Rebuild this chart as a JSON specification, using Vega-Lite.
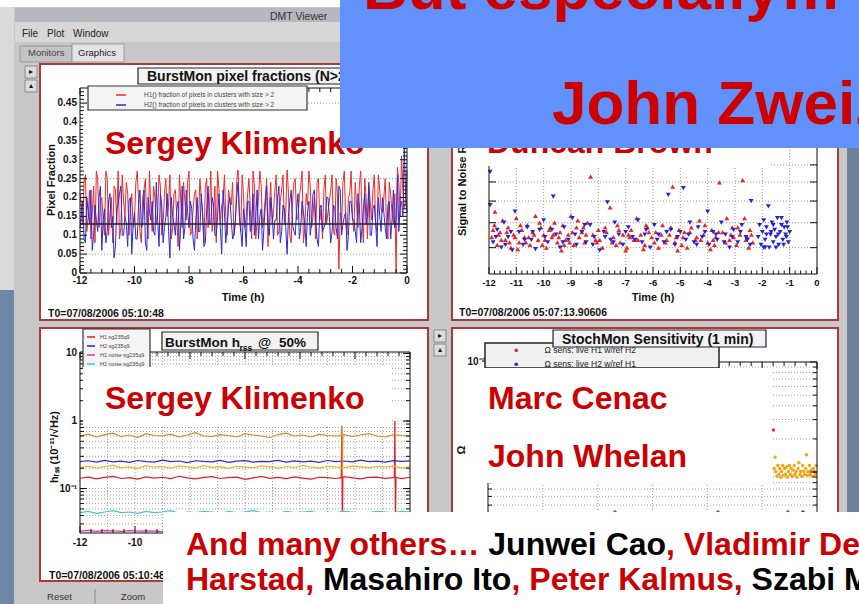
{
"$schema":"https://vega.github.io/schema/vega-lite/v6.json",
"width":859,"height":604,"autosize":"none","padding":0,"background":"#ffffff",
"config":{"view":{"stroke":null},"font":"Liberation Sans","legend":{"labelFont":"Liberation Sans"}},
"data":{"values":[{}]},
"datasets":{
"x2h":[{"g":-12,"l":"-12"},{"g":-10,"l":"-10"},{"g":-8,"l":"-8"},{"g":-6,"l":"-6"},{"g":-4,"l":"-4"},{"g":-2,"l":"-2"},{"g":0,"l":"0"}],
"cx":[{"g":-12,"l":"-12"},{"g":-10,"l":"-10"}],
"x1h":[{"g":-12,"l":"-12"},{"g":-11,"l":"-11"},{"g":-10,"l":"-10"},{"g":-9,"l":"-9"},{"g":-8,"l":"-8"},{"g":-7,"l":"-7"},{"g":-6,"l":"-6"},{"g":-5,"l":"-5"},{"g":-4,"l":"-4"},{"g":-3,"l":"-3"},{"g":-2,"l":"-2"},{"g":-1,"l":"-1"},{"g":0,"l":"0"}],
"xm04":[{"g":-11.6},{"g":-11.2},{"g":-10.8},{"g":-10.4},{"g":-9.6},{"g":-9.2},{"g":-8.8},{"g":-8.4},{"g":-7.6},{"g":-7.2},{"g":-6.8},{"g":-6.4},{"g":-5.6},{"g":-5.2},{"g":-4.8},{"g":-4.4},{"g":-3.6},{"g":-3.2},{"g":-2.8},{"g":-2.4},{"g":-1.6},{"g":-1.2},{"g":-0.8},{"g":-0.4}],
"xm02":[{"g":-11.8},{"g":-11.6},{"g":-11.4},{"g":-11.2},{"g":-10.8},{"g":-10.6},{"g":-10.4},{"g":-10.2},{"g":-9.8},{"g":-9.6},{"g":-9.4},{"g":-9.2},{"g":-8.8},{"g":-8.6},{"g":-8.4},{"g":-8.2},{"g":-7.8},{"g":-7.6},{"g":-7.4},{"g":-7.2},{"g":-6.8},{"g":-6.6},{"g":-6.4},{"g":-6.2},{"g":-5.8},{"g":-5.6},{"g":-5.4},{"g":-5.2},{"g":-4.8},{"g":-4.6},{"g":-4.4},{"g":-4.2},{"g":-3.8},{"g":-3.6},{"g":-3.4},{"g":-3.2},{"g":-2.8},{"g":-2.6},{"g":-2.4},{"g":-2.2},{"g":-1.8},{"g":-1.6},{"g":-1.4},{"g":-1.2},{"g":-0.8},{"g":-0.6},{"g":-0.4},{"g":-0.2}],
"ay":[{"g":0,"l":"0"},{"g":0.05,"l":"0.05"},{"g":0.1,"l":"0.1"},{"g":0.15,"l":"0.15"},{"g":0.2,"l":"0.2"},{"g":0.25,"l":"0.25"},{"g":0.3,"l":"0.3"},{"g":0.35,"l":"0.35"},{"g":0.4,"l":"0.4"},{"g":0.45,"l":"0.45"}],
"aym":[{"g":0.01},{"g":0.02},{"g":0.03},{"g":0.04},{"g":0.06},{"g":0.07},{"g":0.08},{"g":0.09},{"g":0.11},{"g":0.12},{"g":0.13},{"g":0.14},{"g":0.16},{"g":0.17},{"g":0.18},{"g":0.19},{"g":0.21},{"g":0.22},{"g":0.23},{"g":0.24},{"g":0.26},{"g":0.27},{"g":0.28},{"g":0.29},{"g":0.31},{"g":0.32},{"g":0.33},{"g":0.34},{"g":0.36},{"g":0.37},{"g":0.38},{"g":0.39},{"g":0.41},{"g":0.42},{"g":0.43},{"g":0.44},{"g":0.46},{"g":0.47},{"g":0.48}],
"bg":[{"g":6},{"g":7},{"g":8},{"g":9},{"g":10}],
"cg":[{"g":0.03},{"g":0.04},{"g":0.05},{"g":0.06},{"g":0.07},{"g":0.08},{"g":0.09},{"g":0.1},{"g":0.2},{"g":0.3},{"g":0.4},{"g":0.5},{"g":0.6},{"g":0.7},{"g":0.8},{"g":0.9},{"g":1},{"g":2},{"g":3},{"g":4},{"g":5},{"g":6},{"g":7},{"g":8},{"g":9},{"g":10}],
"cy":[{"g":0.1,"l":"10⁻¹"},{"g":1,"l":"1"},{"g":10,"l":"10"}],
"dg":[{"g":0.0002},{"g":0.0003},{"g":0.0004},{"g":0.0005},{"g":0.0006},{"g":0.0007},{"g":0.0008},{"g":0.0009},{"g":0.001},{"g":0.002},{"g":0.003},{"g":0.004},{"g":0.005},{"g":0.006},{"g":0.007},{"g":0.008},{"g":0.009}],
"dmaj":[{"g":0.001},{"g":0.01}],
"dy":[{"g":0.01,"l":"10⁻²"}]
},
"resolve":{"scale":{"x":"independent","y":"independent","color":"independent","shape":"independent"}},
"layer":[
{"layer":[
{"mark":{"type":"rect","fill":"#c8c8c8"},"encoding":{"x":{"datum":-14.936,"scale":{"domain":[-12,0],"range":[80,407],"nice":false,"zero":false},"axis":null},"x2":{"datum":16.587},"y":{"datum":0.7045,"scale":{"domain":[0,0.49],"range":[273,88],"nice":false,"zero":false},"axis":null},"y2":{"datum":0.5536}}},
{"mark":{"type":"rect","fill":"#c8c8c8"},"encoding":{"x":{"datum":-14.936,"axis":null},"x2":{"datum":-13.468},"y":{"datum":0.5536,"axis":null},"y2":{"datum":-0.8767}}},
{"mark":{"type":"rect","fill":"#c8c8c8"},"encoding":{"x":{"datum":0.771,"axis":null},"x2":{"datum":1.651},"y":{"datum":0.5536,"axis":null},"y2":{"datum":-0.8767}}},
{"mark":{"type":"rect","fill":"#c8c8c8"},"encoding":{"x":{"datum":-14.936,"axis":null},"x2":{"datum":16.587},"y":{"datum":-0.1245,"axis":null},"y2":{"datum":-0.1457}}},
{"mark":{"type":"rect","fill":"#c8c8c8"},"encoding":{"x":{"datum":15.817,"axis":null},"x2":{"datum":16.587},"y":{"datum":0.5536,"axis":null},"y2":{"datum":-0.8767}}},
{"mark":{"type":"rect","fill":"#c8c8c8"},"encoding":{"x":{"datum":-14.936,"axis":null},"x2":{"datum":16.587},"y":{"datum":-0.8158,"axis":null},"y2":{"datum":-0.8767}}},
{"mark":{"type":"rect","fill":"#b4b9c0"},"encoding":{"x":{"datum":-14.385,"axis":null},"x2":{"datum":16.587},"y":{"datum":0.7019,"axis":null},"y2":{"datum":0.6648}}},
{"mark":{"type":"rect","fill":"#d7d7d7"},"encoding":{"x":{"datum":-14.385,"axis":null},"x2":{"datum":16.587},"y":{"datum":0.6648,"axis":null},"y2":{"datum":0.6118}}},
{"mark":{"type":"rect","fill":"#c3c3c3","stroke":"#9a9a9a","strokeWidth":1},"encoding":{"x":{"datum":-14.202,"axis":null},"x2":{"datum":-12.294},"y":{"datum":0.6012,"axis":null},"y2":{"datum":0.5589}}},
{"mark":{"type":"rect","fill":"#e4e4e4","stroke":"#9a9a9a","strokeWidth":1},"encoding":{"x":{"datum":-12.294,"axis":null},"x2":{"datum":-10.385},"y":{"datum":0.6065,"axis":null},"y2":{"datum":0.5589}}},
{"mark":{"type":"rect","fill":"#dadada"},"encoding":{"x":{"datum":-14.936,"axis":null},"x2":{"datum":-14.422},"y":{"datum":0.7045,"axis":null},"y2":{"datum":-0.045}}},
{"mark":{"type":"rect","fill":"#6d87a8"},"encoding":{"x":{"datum":-14.936,"axis":null},"x2":{"datum":-14.422},"y":{"datum":-0.045,"axis":null},"y2":{"datum":-0.8767}}},
{"mark":{"type":"rect","fill":"#6c8199"},"encoding":{"x":{"datum":16.147,"axis":null},"x2":{"datum":16.587},"y":{"datum":0.5536,"axis":null},"y2":{"datum":-0.8767}}},
{"mark":{"type":"rect","fill":"#dcdcdc","stroke":"#8a8a8a","strokeWidth":1},"encoding":{"x":{"datum":-14.018,"axis":null},"x2":{"datum":-13.578},"y":{"datum":0.5483,"axis":null},"y2":{"datum":0.5165}}},
{"mark":{"type":"rect","fill":"#dcdcdc","stroke":"#8a8a8a","strokeWidth":1},"encoding":{"x":{"datum":-14.018,"axis":null},"x2":{"datum":-13.578},"y":{"datum":0.5112,"axis":null},"y2":{"datum":0.4794}}},
{"mark":{"type":"rect","fill":"#dcdcdc","stroke":"#8a8a8a","strokeWidth":1},"encoding":{"x":{"datum":0.991,"axis":null},"x2":{"datum":1.431},"y":{"datum":-0.151,"axis":null},"y2":{"datum":-0.1828}}},
{"mark":{"type":"rect","fill":"#dcdcdc","stroke":"#8a8a8a","strokeWidth":1},"encoding":{"x":{"datum":0.991,"axis":null},"x2":{"datum":1.431},"y":{"datum":-0.1881,"axis":null},"y2":{"datum":-0.2198}}},
{"mark":{"type":"rect","filled":false,"stroke":"#b03838","strokeWidth":2},"encoding":{"x":{"datum":-13.468,"axis":null},"x2":{"datum":0.771},"y":{"datum":0.5536,"axis":null},"y2":{"datum":-0.1245}}},
{"mark":{"type":"rect","filled":false,"stroke":"#b03838","strokeWidth":2},"encoding":{"x":{"datum":1.651,"axis":null},"x2":{"datum":15.817},"y":{"datum":0.5536,"axis":null},"y2":{"datum":-0.1245}}},
{"mark":{"type":"rect","filled":false,"stroke":"#b03838","strokeWidth":2},"encoding":{"x":{"datum":-13.468,"axis":null},"x2":{"datum":0.771},"y":{"datum":-0.1457,"axis":null},"y2":{"datum":-0.8158}}},
{"mark":{"type":"rect","filled":false,"stroke":"#b03838","strokeWidth":2},"encoding":{"x":{"datum":1.651,"axis":null},"x2":{"datum":15.817},"y":{"datum":-0.1457,"axis":null},"y2":{"datum":-0.8767}}},
{"mark":{"type":"rule","stroke":"#8a8a8a"},"encoding":{"x":{"datum":-11.45,"axis":null},"y":{"datum":-0.837,"axis":null},"y2":{"datum":-0.8767}}},
{"mark":{"type":"text","text":"DMT Viewer","align":"left","baseline":"middle","fontSize":10.5,"color":"#333"},"encoding":{"x":{"datum":-5.028,"axis":null},"y":{"datum":0.678,"axis":null}}},
{"mark":{"type":"text","text":"File","align":"left","baseline":"middle","fontSize":10,"color":"#222"},"encoding":{"x":{"datum":-14.128,"axis":null},"y":{"datum":0.633,"axis":null}}},
{"mark":{"type":"text","text":"Plot","align":"left","baseline":"middle","fontSize":10,"color":"#222"},"encoding":{"x":{"datum":-13.211,"axis":null},"y":{"datum":0.633,"axis":null}}},
{"mark":{"type":"text","text":"Window","align":"left","baseline":"middle","fontSize":10,"color":"#222"},"encoding":{"x":{"datum":-12.257,"axis":null},"y":{"datum":0.633,"axis":null}}},
{"mark":{"type":"text","text":"Monitors","align":"left","baseline":"middle","fontSize":9.5,"color":"#444"},"encoding":{"x":{"datum":-13.908,"axis":null},"y":{"datum":0.5827,"axis":null}}},
{"mark":{"type":"text","text":"Graphics","align":"left","baseline":"middle","fontSize":9.5,"color":"#222"},"encoding":{"x":{"datum":-12.073,"axis":null},"y":{"datum":0.5827,"axis":null}}},
{"mark":{"type":"text","text":"Reset","align":"center","baseline":"middle","fontSize":9.5,"color":"#333"},"encoding":{"x":{"datum":-12.752,"axis":null},"y":{"datum":-0.8582,"axis":null}}},
{"mark":{"type":"text","text":"Zoom","align":"center","baseline":"middle","fontSize":9.5,"color":"#333"},"encoding":{"x":{"datum":-10.055,"axis":null},"y":{"datum":-0.8582,"axis":null}}},
{"mark":{"type":"text","text":"▸","align":"center","baseline":"middle","fontSize":8,"color":"#111"},"encoding":{"x":{"datum":-13.798,"axis":null},"y":{"datum":0.5324,"axis":null}}},
{"mark":{"type":"text","text":"▴","align":"center","baseline":"middle","fontSize":8,"color":"#111"},"encoding":{"x":{"datum":-13.798,"axis":null},"y":{"datum":0.4953,"axis":null}}},
{"mark":{"type":"text","text":"▸","align":"center","baseline":"middle","fontSize":8,"color":"#111"},"encoding":{"x":{"datum":1.211,"axis":null},"y":{"datum":-0.1669,"axis":null}}},
{"mark":{"type":"text","text":"▴","align":"center","baseline":"middle","fontSize":8,"color":"#111"},"encoding":{"x":{"datum":1.211,"axis":null},"y":{"datum":-0.2039,"axis":null}}}
]},
{"layer":[
{"data":{"values":[{"g":0.05},{"g":0.25},{"g":0.45}]},"mark":{"type":"rule","stroke":"#999999","strokeDash":[1,2],"strokeWidth":1},"encoding":{"y":{"field":"g","type":"quantitative","scale":{"domain":[0,0.49],"range":[273,88],"nice":false,"zero":false},"axis":null},"x":{"datum":-12,"scale":{"domain":[-12,0],"range":[80,407],"nice":false,"zero":false},"axis":null},"x2":{"datum":0}}},
{"data":{"values":[
{"t":-12,"a":0.21,"b":0.12},{"t":-11.9,"a":0.13,"b":0.19},{"t":-11.8,"a":0.26,"b":0.08},{"t":-11.7,"a":0.15,"b":0.16},{"t":-11.6,"a":0.09,"b":0.22},{"t":-11.5,"a":0.23,"b":0.1},{"t":-11.4,"a":0.27,"b":0.14},{"t":-11.3,"a":0.12,"b":0.2},{"t":-11.2,"a":0.2,"b":0.06},{"t":-11.1,"a":0.1,"b":0.17},
{"t":-11,"a":0.25,"b":0.11},{"t":-10.9,"a":0.16,"b":0.21},{"t":-10.8,"a":0.08,"b":0.15},{"t":-10.7,"a":0.22,"b":0.07},{"t":-10.6,"a":0.27,"b":0.18},{"t":-10.5,"a":0.12,"b":0.23},{"t":-10.4,"a":0.19,"b":0.1},{"t":-10.3,"a":0.24,"b":0.13},{"t":-10.2,"a":0.1,"b":0.19},{"t":-10.1,"a":0.21,"b":0.05},
{"t":-10,"a":0.14,"b":0.16},{"t":-9.9,"a":0.27,"b":0.09},{"t":-9.8,"a":0.11,"b":0.22},{"t":-9.7,"a":0.2,"b":0.13},{"t":-9.6,"a":0.25,"b":0.08},{"t":-9.5,"a":0.09,"b":0.2},{"t":-9.4,"a":0.17,"b":0.14},{"t":-9.3,"a":0.23,"b":0.11},{"t":-9.2,"a":0.13,"b":0.24},{"t":-9.1,"a":0.26,"b":0.07},
{"t":-9,"a":0.1,"b":0.18},{"t":-8.9,"a":0.21,"b":0.12},{"t":-8.8,"a":0.15,"b":0.21},{"t":-8.7,"a":0.26,"b":0.04},{"t":-8.6,"a":0.12,"b":0.15},{"t":-8.5,"a":0.22,"b":0.1},{"t":-8.4,"a":0.07,"b":0.19},{"t":-8.3,"a":0.19,"b":0.13},{"t":-8.2,"a":0.24,"b":0.09},{"t":-8.1,"a":0.14,"b":0.22},
{"t":-8,"a":0.27,"b":0.12},{"t":-7.9,"a":0.11,"b":0.17},{"t":-7.8,"a":0.21,"b":0.06},{"t":-7.7,"a":0.09,"b":0.2},{"t":-7.6,"a":0.25,"b":0.11},{"t":-7.5,"a":0.16,"b":0.15},{"t":-7.4,"a":0.23,"b":0.08},{"t":-7.3,"a":0.12,"b":0.23},{"t":-7.2,"a":0.27,"b":0.13},{"t":-7.1,"a":0.15,"b":0.18},
{"t":-7,"a":0.08,"b":0.1},{"t":-6.9,"a":0.22,"b":0.21},{"t":-6.8,"a":0.18,"b":0.05},{"t":-6.7,"a":0.26,"b":0.16},{"t":-6.6,"a":0.1,"b":0.12},{"t":-6.5,"a":0.19,"b":0.2},{"t":-6.4,"a":0.24,"b":0.09},{"t":-6.3,"a":0.13,"b":0.14},{"t":-6.2,"a":0.28,"b":0.24},{"t":-6.1,"a":0.11,"b":0.11},
{"t":-6,"a":0.21,"b":0.17},{"t":-5.9,"a":0.15,"b":0.07},{"t":-5.8,"a":0.25,"b":0.19},{"t":-5.7,"a":0.09,"b":0.13},{"t":-5.6,"a":0.23,"b":0.1},{"t":-5.5,"a":0.14,"b":0.22},{"t":-5.4,"a":0.27,"b":0.15},{"t":-5.3,"a":0.12,"b":0.06},{"t":-5.2,"a":0.2,"b":0.18},{"t":-5.1,"a":0.07,"b":0.12},
{"t":-5,"a":0.24,"b":0.2},{"t":-4.9,"a":0.16,"b":0.09},{"t":-4.8,"a":0.26,"b":0.14},{"t":-4.7,"a":0.11,"b":0.23},{"t":-4.6,"a":0.22,"b":0.11},{"t":-4.5,"a":0.13,"b":0.17},{"t":-4.4,"a":0.28,"b":0.05},{"t":-4.3,"a":0.1,"b":0.19},{"t":-4.2,"a":0.19,"b":0.13},{"t":-4.1,"a":0.25,"b":0.1},
{"t":-4,"a":0.15,"b":0.21},{"t":-3.9,"a":0.23,"b":0.12},{"t":-3.8,"a":0.08,"b":0.16},{"t":-3.7,"a":0.21,"b":0.07},{"t":-3.6,"a":0.27,"b":0.19},{"t":-3.5,"a":0.12,"b":0.14},{"t":-3.4,"a":0.2,"b":0.22},{"t":-3.3,"a":0.24,"b":0.09},{"t":-3.2,"a":0.14,"b":0.17},{"t":-3.1,"a":0.09,"b":0.11},
{"t":-3,"a":0.26,"b":0.13},{"t":-2.9,"a":0.16,"b":0.2},{"t":-2.8,"a":0.22,"b":0.08},{"t":-2.7,"a":0.11,"b":0.18},{"t":-2.6,"a":0.25,"b":0.12},{"t":-2.5,"a":0.01,"b":0.23},{"t":-2.4,"a":0.13,"b":0.1},{"t":-2.3,"a":0.27,"b":0.15},{"t":-2.2,"a":0.1,"b":0.06},{"t":-2.1,"a":0.21,"b":0.19},
{"t":-2,"a":0.15,"b":0.14},{"t":-1.9,"a":0.24,"b":0.11},{"t":-1.8,"a":0.12,"b":0.21},{"t":-1.7,"a":0.27,"b":0.08},{"t":-1.6,"a":0.08,"b":0.17},{"t":-1.5,"a":0.2,"b":0.13},{"t":-1.4,"a":0.23,"b":0.24},{"t":-1.3,"a":0.14,"b":0.1},{"t":-1.2,"a":0.26,"b":0.18},{"t":-1.1,"a":0.11,"b":0.07},
{"t":-1,"a":0.22,"b":0.15},{"t":-0.9,"a":0.16,"b":0.2},{"t":-0.8,"a":0.25,"b":0.12},{"t":-0.7,"a":0.09,"b":0.18},{"t":-0.6,"a":0.21,"b":0.09},{"t":-0.5,"a":0.13,"b":0.22},{"t":-0.4,"a":0.0,"b":0.14},{"t":-0.3,"a":0.24,"b":0.11},{"t":-0.2,"a":0.31,"b":0.19},{"t":-0.1,"a":0.17,"b":0.33},
{"t":0,"a":0.27,"b":0.16},
{"t":-11.95,"a":0.18,"b":0.15},{"t":-11.85,"a":0.24,"b":0.09},{"t":-11.75,"a":0.11,"b":0.2},{"t":-11.65,"a":0.22,"b":0.13},{"t":-11.55,"a":0.16,"b":0.06},{"t":-11.45,"a":0.08,"b":0.18},{"t":-11.35,"a":0.25,"b":0.11},{"t":-11.25,"a":0.19,"b":0.23},{"t":-11.15,"a":0.14,"b":0.14},{"t":-11.05,"a":0.27,"b":0.08},
{"t":-10.95,"a":0.1,"b":0.19},{"t":-10.85,"a":0.2,"b":0.12},{"t":-10.75,"a":0.23,"b":0.04},{"t":-10.65,"a":0.13,"b":0.17},{"t":-10.55,"a":0.09,"b":0.21},{"t":-10.45,"a":0.26,"b":0.1},{"t":-10.35,"a":0.15,"b":0.15},{"t":-10.25,"a":0.21,"b":0.07},{"t":-10.15,"a":0.17,"b":0.2},{"t":-10.05,"a":0.12,"b":0.13},
{"t":-9.95,"a":0.24,"b":0.09},{"t":-9.85,"a":0.19,"b":0.18},{"t":-9.75,"a":0.08,"b":0.12},{"t":-9.65,"a":0.22,"b":0.22},{"t":-9.55,"a":0.14,"b":0.06},{"t":-9.45,"a":0.27,"b":0.16},{"t":-9.35,"a":0.11,"b":0.19},{"t":-9.25,"a":0.2,"b":0.1},{"t":-9.15,"a":0.16,"b":0.14},{"t":-9.05,"a":0.23,"b":0.21},
{"t":-8.95,"a":0.13,"b":0.08},{"t":-8.85,"a":0.25,"b":0.15},{"t":-8.75,"a":0.18,"b":0.11},{"t":-8.65,"a":0.09,"b":0.2},{"t":-8.55,"a":0.21,"b":0.13},{"t":-8.45,"a":0.15,"b":0.17},{"t":-8.35,"a":0.26,"b":0.06},{"t":-8.25,"a":0.12,"b":0.23},{"t":-8.15,"a":0.19,"b":0.12},{"t":-8.05,"a":0.24,"b":0.16},
{"t":-7.95,"a":0.1,"b":0.19},{"t":-7.85,"a":0.17,"b":0.09},{"t":-7.75,"a":0.22,"b":0.14},{"t":-7.65,"a":0.14,"b":0.11},{"t":-7.55,"a":0.2,"b":0.21},{"t":-7.45,"a":0.08,"b":0.07},{"t":-7.35,"a":0.25,"b":0.17},{"t":-7.25,"a":0.16,"b":0.13},{"t":-7.15,"a":0.11,"b":0.2},{"t":-7.05,"a":0.23,"b":0.1},
{"t":-6.95,"a":0.27,"b":0.15},{"t":-6.85,"a":0.13,"b":0.12},{"t":-6.75,"a":0.19,"b":0.22},{"t":-6.65,"a":0.15,"b":0.08},{"t":-6.55,"a":0.22,"b":0.18},{"t":-6.45,"a":0.18,"b":0.14},{"t":-6.35,"a":0.1,"b":0.1},{"t":-6.25,"a":0.24,"b":0.2},{"t":-6.15,"a":0.14,"b":0.16},{"t":-6.05,"a":0.26,"b":0.07},
{"t":-5.95,"a":0.12,"b":0.13},{"t":-5.85,"a":0.21,"b":0.19},{"t":-5.75,"a":0.17,"b":0.11},{"t":-5.65,"a":0.27,"b":0.21},{"t":-5.55,"a":0.09,"b":0.15},{"t":-5.45,"a":0.2,"b":0.09},{"t":-5.35,"a":0.23,"b":0.17},{"t":-5.25,"a":0.15,"b":0.12},{"t":-5.15,"a":0.25,"b":0.23},{"t":-5.05,"a":0.18,"b":0.1},
{"t":-4.95,"a":0.13,"b":0.16},{"t":-4.85,"a":0.22,"b":0.14},{"t":-4.75,"a":0.1,"b":0.2},{"t":-4.65,"a":0.19,"b":0.08},{"t":-4.55,"a":0.26,"b":0.18},{"t":-4.45,"a":0.16,"b":0.12},{"t":-4.35,"a":0.21,"b":0.15},{"t":-4.25,"a":0.08,"b":0.22},{"t":-4.15,"a":0.24,"b":0.11},{"t":-4.05,"a":0.14,"b":0.17},
{"t":-3.95,"a":0.2,"b":0.09},{"t":-3.85,"a":0.27,"b":0.19},{"t":-3.75,"a":0.12,"b":0.13},{"t":-3.65,"a":0.18,"b":0.16},{"t":-3.55,"a":0.23,"b":0.1},{"t":-3.45,"a":0.15,"b":0.21},{"t":-3.35,"a":0.09,"b":0.14},{"t":-3.25,"a":0.25,"b":0.07},{"t":-3.15,"a":0.17,"b":0.18},{"t":-3.05,"a":0.22,"b":0.12},
{"t":-2.95,"a":0.13,"b":0.2},{"t":-2.85,"a":0.19,"b":0.15},{"t":-2.75,"a":0.26,"b":0.11},{"t":-2.65,"a":0.1,"b":0.17},{"t":-2.55,"a":0.21,"b":0.09},{"t":-2.45,"a":0.16,"b":0.22},{"t":-2.35,"a":0.24,"b":0.13},{"t":-2.25,"a":0.14,"b":0.16},{"t":-2.15,"a":0.2,"b":0.1},{"t":-2.05,"a":0.27,"b":0.19},
{"t":-1.95,"a":0.11,"b":0.14},{"t":-1.85,"a":0.18,"b":0.08},{"t":-1.75,"a":0.23,"b":0.18},{"t":-1.65,"a":0.15,"b":0.12},{"t":-1.55,"a":0.25,"b":0.21},{"t":-1.45,"a":0.09,"b":0.15},{"t":-1.35,"a":0.19,"b":0.1},{"t":-1.25,"a":0.22,"b":0.17},{"t":-1.15,"a":0.13,"b":0.13},{"t":-1.05,"a":0.26,"b":0.2},
{"t":-0.95,"a":0.17,"b":0.11},{"t":-0.85,"a":0.2,"b":0.16},{"t":-0.75,"a":0.12,"b":0.09},{"t":-0.65,"a":0.24,"b":0.19},{"t":-0.55,"a":0.16,"b":0.14},{"t":-0.45,"a":0.21,"b":0.12},{"t":-0.35,"a":0.28,"b":0.26},{"t":-0.25,"a":0.15,"b":0.18},{"t":-0.15,"a":0.22,"b":0.15},{"t":-0.05,"a":0.19,"b":0.21}]},
"transform":[{"fold":["a","b"],"as":["s","v"]}],
"mark":{"type":"line","strokeWidth":1},
"encoding":{
"x":{"field":"t","type":"quantitative","axis":null},
"y":{"field":"v","type":"quantitative","axis":null},
"color":{"field":"s","type":"nominal","scale":{"domain":["a","b"],"range":["#ee2b2b","#2b2bd8"]},"legend":{"orient":"none","legendX":88,"legendY":86,"title":null,"direction":"vertical","symbolType":"stroke","symbolSize":100,"symbolStrokeWidth":1.5,"labelFontSize":6.5,"labelColor":"#444","labelFontWeight":"normal","labelOffset":17,"symbolOffset":24,"padding":3,"rowPadding":0,"labelLimit":400,"labelExpr":"datum.label == 'a' ? 'H1() fraction of pixels in clusters with size > 2' : 'H2() fraction of pixels in clusters with size > 2'"}}}},
{"mark":{"type":"rule","stroke":"#222222","strokeWidth":1.5},"encoding":{"y":{"datum":0.13,"axis":null},"x":{"datum":-12,"axis":null},"x2":{"datum":0}}},
{"mark":{"type":"rect","filled":false,"stroke":"#111111","strokeWidth":1},"encoding":{"x":{"datum":-12,"axis":null},"x2":{"datum":0},"y":{"datum":0,"axis":null},"y2":{"datum":0.49}}},
{"data":{"name":"x2h"},"mark":{"type":"rule","stroke":"#111"},"encoding":{"x":{"field":"g","type":"quantitative","axis":null},"y":{"datum":0,"axis":null},"y2":{"datum":0.0185}}},
{"data":{"name":"xm04"},"mark":{"type":"rule","stroke":"#111"},"encoding":{"x":{"field":"g","type":"quantitative","axis":null},"y":{"datum":0,"axis":null},"y2":{"datum":0.0106}}},
{"data":{"name":"x2h"},"mark":{"type":"rule","stroke":"#111"},"encoding":{"x":{"field":"g","type":"quantitative","axis":null},"y":{"datum":0.49,"axis":null},"y2":{"datum":0.4715}}},
{"data":{"name":"xm04"},"mark":{"type":"rule","stroke":"#111"},"encoding":{"x":{"field":"g","type":"quantitative","axis":null},"y":{"datum":0.49,"axis":null},"y2":{"datum":0.4794}}},
{"data":{"name":"ay"},"mark":{"type":"rule","stroke":"#111"},"encoding":{"y":{"field":"g","type":"quantitative","axis":null},"x":{"datum":-12,"axis":null},"x2":{"datum":-11.743}}},
{"data":{"name":"aym"},"mark":{"type":"rule","stroke":"#111"},"encoding":{"y":{"field":"g","type":"quantitative","axis":null},"x":{"datum":-12,"axis":null},"x2":{"datum":-11.853}}},
{"data":{"name":"ay"},"mark":{"type":"rule","stroke":"#111"},"encoding":{"y":{"field":"g","type":"quantitative","axis":null},"x":{"datum":0,"axis":null},"x2":{"datum":-0.257}}},
{"data":{"name":"aym"},"mark":{"type":"rule","stroke":"#111"},"encoding":{"y":{"field":"g","type":"quantitative","axis":null},"x":{"datum":0,"axis":null},"x2":{"datum":-0.147}}},
{"data":{"name":"x2h"},"mark":{"type":"text","align":"center","baseline":"middle","fontSize":10,"fontWeight":"bold","color":"#111"},"encoding":{"x":{"field":"g","type":"quantitative","axis":null},"y":{"datum":-0.0212,"axis":null},"text":{"field":"l","type":"nominal"}}},
{"data":{"name":"ay"},"mark":{"type":"text","align":"right","baseline":"middle","fontSize":10,"fontWeight":"bold","color":"#111"},"encoding":{"y":{"field":"g","type":"quantitative","axis":null},"x":{"datum":-12.11,"axis":null},"text":{"field":"l","type":"nominal"}}},
{"mark":{"type":"text","text":"Time (h)","align":"center","baseline":"middle","fontSize":11,"fontWeight":"bold","color":"#111"},"encoding":{"x":{"datum":-6.018,"axis":null},"y":{"datum":-0.0662,"axis":null}}},
{"mark":{"type":"text","text":"Pixel Fraction","align":"center","baseline":"middle","angle":270,"fontSize":11,"fontWeight":"bold","color":"#111"},"encoding":{"x":{"datum":-13.028,"axis":null},"y":{"datum":0.2463,"axis":null}}}
]},
{"layer":[
{"data":{"name":"bg"},"mark":{"type":"rule","stroke":"#999999","strokeDash":[1,2],"strokeWidth":1},"encoding":{"y":{"field":"g","type":"quantitative","scale":{"type":"log","domain":[5.1,14],"range":[274,110.4],"nice":false,"zero":false},"axis":null},"x":{"datum":-12,"scale":{"domain":[-12,0],"range":[489,817],"nice":false,"zero":false},"axis":null},"x2":{"datum":0}}},
{"data":{"values":[{"g":-11},{"g":-10},{"g":-9},{"g":-8},{"g":-7},{"g":-6},{"g":-5},{"g":-4},{"g":-3},{"g":-2},{"g":-1}]},"mark":{"type":"rule","stroke":"#999999","strokeDash":[1,2],"strokeWidth":1},"encoding":{"x":{"field":"g","type":"quantitative","axis":null},"y":{"datum":5.1,"axis":null},"y2":{"datum":14}}},
{"data":{"values":[
{"t":-11.9,"v":6.4,"s":"r"},{"t":-11.8,"v":6.9,"s":"r"},{"t":-11.7,"v":6.1,"s":"r"},{"t":-11.6,"v":6.6,"s":"r"},{"t":-11.5,"v":7.1,"s":"r"},{"t":-11.4,"v":6.3,"s":"r"},{"t":-11.3,"v":6.8,"s":"r"},{"t":-11.2,"v":6.0,"s":"r"},{"t":-11.1,"v":6.5,"s":"r"},{"t":-11.0,"v":7.2,"s":"r"},
{"t":-10.9,"v":6.2,"s":"r"},{"t":-10.8,"v":6.7,"s":"r"},{"t":-10.7,"v":6.4,"s":"r"},{"t":-10.6,"v":6.9,"s":"r"},{"t":-10.5,"v":6.1,"s":"r"},{"t":-10.4,"v":6.6,"s":"r"},{"t":-10.3,"v":7.3,"s":"r"},{"t":-10.2,"v":6.3,"s":"r"},{"t":-10.1,"v":6.8,"s":"r"},{"t":-10.0,"v":6.5,"s":"r"},
{"t":-9.9,"v":6.0,"s":"r"},{"t":-9.8,"v":6.7,"s":"r"},{"t":-9.7,"v":6.4,"s":"r"},{"t":-9.6,"v":7.0,"s":"r"},{"t":-9.5,"v":6.2,"s":"r"},{"t":-9.4,"v":6.6,"s":"r"},{"t":-9.3,"v":6.9,"s":"r"},{"t":-9.2,"v":6.3,"s":"r"},{"t":-9.1,"v":6.5,"s":"r"},{"t":-9.0,"v":7.3,"s":"r"},
{"t":-8.9,"v":6.1,"s":"r"},{"t":-8.8,"v":6.8,"s":"r"},{"t":-8.7,"v":6.4,"s":"r"},{"t":-8.6,"v":6.6,"s":"r"},{"t":-8.5,"v":6.2,"s":"r"},{"t":-8.4,"v":7.0,"s":"r"},{"t":-8.28,"v":9.3,"s":"r"},{"t":-8.2,"v":6.5,"s":"r"},{"t":-8.1,"v":6.3,"s":"r"},{"t":-8.0,"v":6.7,"s":"r"},
{"t":-7.85,"v":6.0,"s":"r"},{"t":-7.7,"v":6.6,"s":"r"},{"t":-7.57,"v":7.7,"s":"r"},{"t":-7.45,"v":6.4,"s":"r"},{"t":-7.3,"v":6.9,"s":"r"},{"t":-7.2,"v":6.2,"s":"r"},{"t":-7.1,"v":6.5,"s":"r"},{"t":-6.95,"v":6.0,"s":"r"},{"t":-6.8,"v":6.7,"s":"r"},{"t":-6.7,"v":6.3,"s":"r"},
{"t":-6.6,"v":7.2,"s":"r"},{"t":-6.45,"v":6.5,"s":"r"},{"t":-6.3,"v":6.1,"s":"r"},{"t":-6.2,"v":6.8,"s":"r"},{"t":-6.05,"v":6.4,"s":"r"},{"t":-5.9,"v":6.6,"s":"r"},{"t":-5.8,"v":6.0,"s":"r"},{"t":-5.65,"v":6.9,"s":"r"},{"t":-5.5,"v":6.3,"s":"r"},{"t":-5.4,"v":6.5,"s":"r"},
{"t":-5.28,"v":8.74,"s":"r"},{"t":-5.2,"v":6.2,"s":"r"},{"t":-5.05,"v":6.7,"s":"r"},{"t":-4.9,"v":6.4,"s":"r"},{"t":-4.75,"v":6.0,"s":"r"},{"t":-4.6,"v":6.8,"s":"r"},{"t":-4.45,"v":6.3,"s":"r"},{"t":-4.3,"v":7.1,"s":"r"},{"t":-4.15,"v":6.5,"s":"r"},{"t":-4.0,"v":6.2,"s":"r"},
{"t":-3.85,"v":6.7,"s":"r"},{"t":-3.7,"v":6.4,"s":"r"},{"t":-3.57,"v":8.98,"s":"r"},{"t":-3.45,"v":6.6,"s":"r"},{"t":-3.3,"v":7.2,"s":"r"},{"t":-3.2,"v":6.3,"s":"r"},{"t":-3.1,"v":6.8,"s":"r"},{"t":-2.95,"v":6.1,"s":"r"},{"t":-2.82,"v":6.5,"s":"r"},{"t":-2.72,"v":9.11,"s":"r"},
{"t":-2.65,"v":7.2,"s":"r"},{"t":-2.55,"v":6.4,"s":"r"},{"t":-2.45,"v":6.7,"s":"r"},{"t":-2.35,"v":6.2,"s":"r"},{"t":-11.78,"v":7.5,"s":"r"},{"t":-10.95,"v":5.95,"s":"r"},{"t":-9.35,"v":5.9,"s":"r"},{"t":-7.0,"v":5.9,"s":"r"},{"t":-6.35,"v":5.95,"s":"r"},{"t":-5.1,"v":5.9,"s":"r"},
{"t":-3.9,"v":5.95,"s":"r"},{"t":-11.65,"v":6.5,"s":"r"},{"t":-11.25,"v":6.2,"s":"r"},{"t":-10.55,"v":6.4,"s":"r"},{"t":-10.05,"v":6.1,"s":"r"},{"t":-9.65,"v":6.5,"s":"r"},{"t":-9.05,"v":6.2,"s":"r"},{"t":-8.55,"v":6.8,"s":"r"},{"t":-7.95,"v":6.3,"s":"r"},{"t":-7.35,"v":6.1,"s":"r"},
{"t":-6.85,"v":6.4,"s":"r"},{"t":-6.15,"v":6.6,"s":"r"},{"t":-5.55,"v":6.2,"s":"r"},{"t":-4.85,"v":6.6,"s":"r"},{"t":-4.25,"v":6.3,"s":"r"},{"t":-3.75,"v":6.1,"s":"r"},{"t":-3.05,"v":6.4,"s":"r"},{"t":-2.5,"v":6.0,"s":"r"},
{"t":-11.85,"v":6.7,"s":"r"},{"t":-11.55,"v":6.3,"s":"r"},{"t":-11.35,"v":6.6,"s":"r"},{"t":-11.05,"v":6.4,"s":"r"},{"t":-10.85,"v":6.9,"s":"r"},{"t":-10.65,"v":6.2,"s":"r"},{"t":-10.35,"v":6.5,"s":"r"},{"t":-10.15,"v":7.0,"s":"r"},{"t":-9.95,"v":6.3,"s":"r"},{"t":-9.75,"v":6.8,"s":"r"},
{"t":-9.45,"v":6.4,"s":"r"},{"t":-9.25,"v":6.1,"s":"r"},{"t":-8.95,"v":6.6,"s":"r"},{"t":-8.75,"v":7.1,"s":"r"},{"t":-8.45,"v":6.5,"s":"r"},{"t":-8.05,"v":6.2,"s":"r"},{"t":-7.75,"v":6.8,"s":"r"},{"t":-7.5,"v":6.2,"s":"r"},{"t":-7.25,"v":6.7,"s":"r"},{"t":-6.9,"v":6.5,"s":"r"},
{"t":-6.55,"v":6.3,"s":"r"},{"t":-6.25,"v":6.9,"s":"r"},{"t":-5.95,"v":6.2,"s":"r"},{"t":-5.7,"v":6.5,"s":"r"},{"t":-5.35,"v":6.8,"s":"r"},{"t":-5.15,"v":6.4,"s":"r"},{"t":-4.95,"v":6.1,"s":"r"},{"t":-4.65,"v":6.6,"s":"r"},{"t":-4.4,"v":6.4,"s":"r"},{"t":-4.1,"v":6.9,"s":"r"},
{"t":-3.8,"v":6.3,"s":"r"},{"t":-3.6,"v":6.6,"s":"r"},{"t":-3.35,"v":6.2,"s":"r"},{"t":-3.15,"v":6.5,"s":"r"},{"t":-2.9,"v":6.8,"s":"r"},{"t":-2.6,"v":6.3,"s":"r"},{"t":-2.4,"v":6.5,"s":"r"},
{"t":-11.96,"v":9.58,"s":"b"},{"t":-11.96,"v":7.8,"s":"b"},{"t":-11.85,"v":6.2,"s":"b"},{"t":-11.7,"v":6.7,"s":"b"},{"t":-11.55,"v":6.0,"s":"b"},{"t":-11.45,"v":7.0,"s":"b"},{"t":-11.3,"v":6.4,"s":"b"},{"t":-11.15,"v":5.9,"s":"b"},{"t":-11.05,"v":7.5,"s":"b"},{"t":-10.9,"v":6.6,"s":"b"},
{"t":-10.75,"v":6.1,"s":"b"},{"t":-10.6,"v":6.8,"s":"b"},{"t":-10.45,"v":6.3,"s":"b"},{"t":-10.3,"v":5.95,"s":"b"},{"t":-10.15,"v":6.7,"s":"b"},{"t":-10.0,"v":7.1,"s":"b"},{"t":-9.85,"v":6.2,"s":"b"},{"t":-9.65,"v":8.22,"s":"b"},{"t":-9.55,"v":6.5,"s":"b"},{"t":-9.4,"v":6.0,"s":"b"},
{"t":-9.25,"v":6.8,"s":"b"},{"t":-9.1,"v":6.3,"s":"b"},{"t":-8.95,"v":7.2,"s":"b"},{"t":-8.8,"v":6.1,"s":"b"},{"t":-8.6,"v":6.6,"s":"b"},{"t":-8.45,"v":6.2,"s":"b"},{"t":-8.3,"v":6.9,"s":"b"},{"t":-8.15,"v":6.4,"s":"b"},{"t":-7.95,"v":5.9,"s":"b"},{"t":-7.8,"v":6.6,"s":"b"},
{"t":-7.67,"v":7.94,"s":"b"},{"t":-7.55,"v":6.3,"s":"b"},{"t":-7.4,"v":7.0,"s":"b"},{"t":-7.25,"v":6.5,"s":"b"},{"t":-7.1,"v":6.1,"s":"b"},{"t":-6.9,"v":6.8,"s":"b"},{"t":-6.75,"v":6.4,"s":"b"},{"t":-6.55,"v":7.1,"s":"b"},{"t":-6.4,"v":6.2,"s":"b"},{"t":-6.25,"v":6.7,"s":"b"},
{"t":-6.1,"v":6.0,"s":"b"},{"t":-5.95,"v":6.9,"s":"b"},{"t":-5.8,"v":6.5,"s":"b"},{"t":-5.6,"v":6.2,"s":"b"},{"t":-5.44,"v":8.31,"s":"b"},{"t":-5.35,"v":6.7,"s":"b"},{"t":-5.2,"v":6.1,"s":"b"},{"t":-5.0,"v":6.6,"s":"b"},{"t":-4.89,"v":8.67,"s":"b"},{"t":-4.8,"v":6.3,"s":"b"},
{"t":-4.65,"v":7.0,"s":"b"},{"t":-4.5,"v":6.2,"s":"b"},{"t":-4.35,"v":6.8,"s":"b"},{"t":-4.2,"v":6.4,"s":"b"},{"t":-4.0,"v":7.49,"s":"b"},{"t":-3.95,"v":6.1,"s":"b"},{"t":-3.8,"v":6.6,"s":"b"},{"t":-3.65,"v":6.3,"s":"b"},{"t":-3.5,"v":7.0,"s":"b"},{"t":-3.35,"v":6.5,"s":"b"},
{"t":-3.2,"v":6.0,"s":"b"},{"t":-3.05,"v":6.7,"s":"b"},{"t":-2.9,"v":6.2,"s":"b"},{"t":-2.75,"v":6.9,"s":"b"},{"t":-2.6,"v":6.4,"s":"b"},{"t":-2.41,"v":8.0,"s":"b"},{"t":-2.45,"v":6.1,"s":"b"},
{"t":-2.15,"v":6.4,"s":"b"},{"t":-2.1,"v":6.9,"s":"b"},{"t":-2.05,"v":6.1,"s":"b"},{"t":-2.0,"v":6.6,"s":"b"},{"t":-1.95,"v":7.1,"s":"b"},{"t":-1.9,"v":6.3,"s":"b"},{"t":-1.85,"v":6.8,"s":"b"},{"t":-1.78,"v":7.74,"s":"b"},{"t":-1.75,"v":6.0,"s":"b"},{"t":-1.7,"v":6.5,"s":"b"},
{"t":-1.65,"v":7.0,"s":"b"},{"t":-1.6,"v":6.2,"s":"b"},{"t":-1.55,"v":6.7,"s":"b"},{"t":-1.5,"v":6.4,"s":"b"},{"t":-1.45,"v":7.2,"s":"b"},{"t":-1.4,"v":6.1,"s":"b"},{"t":-1.35,"v":6.6,"s":"b"},{"t":-1.3,"v":6.9,"s":"b"},{"t":-1.25,"v":6.3,"s":"b"},{"t":-1.2,"v":6.8,"s":"b"},
{"t":-1.15,"v":6.5,"s":"b"},{"t":-1.1,"v":7.0,"s":"b"},{"t":-1.05,"v":6.2,"s":"b"},{"t":-1.0,"v":6.6,"s":"b"},{"t":-1.95,"v":6.0,"s":"b"},{"t":-1.6,"v":6.9,"s":"b"},{"t":-1.3,"v":7.2,"s":"b"},{"t":-1.5,"v":6.0,"s":"b"},{"t":-1.12,"v":6.4,"s":"b"},{"t":-1.85,"v":6.5,"s":"b"},
{"t":-11.75,"v":6.4,"s":"b"},{"t":-11.4,"v":6.1,"s":"b"},{"t":-11.2,"v":6.6,"s":"b"},{"t":-10.7,"v":6.3,"s":"b"},{"t":-10.4,"v":6.6,"s":"b"},{"t":-9.95,"v":6.4,"s":"b"},{"t":-9.7,"v":6.7,"s":"b"},{"t":-9.3,"v":6.2,"s":"b"},{"t":-8.85,"v":6.5,"s":"b"},{"t":-8.5,"v":6.9,"s":"b"},
{"t":-8.2,"v":6.1,"s":"b"},{"t":-7.75,"v":6.4,"s":"b"},{"t":-7.45,"v":6.2,"s":"b"},{"t":-7.0,"v":6.6,"s":"b"},{"t":-6.65,"v":6.3,"s":"b"},{"t":-6.3,"v":6.5,"s":"b"},{"t":-5.85,"v":6.3,"s":"b"},{"t":-5.5,"v":6.6,"s":"b"},{"t":-5.1,"v":6.4,"s":"b"},{"t":-4.7,"v":6.5,"s":"b"},
{"t":-4.4,"v":6.1,"s":"b"},{"t":-4.1,"v":6.6,"s":"b"},{"t":-3.7,"v":6.5,"s":"b"},{"t":-3.4,"v":6.2,"s":"b"},{"t":-3.1,"v":6.4,"s":"b"},{"t":-2.8,"v":6.6,"s":"b"},{"t":-2.55,"v":6.3,"s":"b"},{"t":-1.9,"v":6.0,"s":"b"},{"t":-1.68,"v":6.6,"s":"b"},{"t":-1.42,"v":6.5,"s":"b"},
{"t":-1.22,"v":6.1,"s":"b"},{"t":-1.08,"v":6.8,"s":"b"}]},
"mark":{"type":"point","filled":true,"size":24,"opacity":1},
"encoding":{
"x":{"field":"t","type":"quantitative","axis":null},
"y":{"field":"v","type":"quantitative","axis":null},
"color":{"field":"s","type":"nominal","scale":{"domain":["r","b"],"range":["#ee2222","#2222dd"]},"legend":null},
"shape":{"field":"s","type":"nominal","scale":{"domain":["r","b"],"range":["triangle-up","triangle-down"]},"legend":null}}},
{"mark":{"type":"rect","filled":false,"stroke":"#111111","strokeWidth":1},"encoding":{"x":{"datum":-12,"axis":null},"x2":{"datum":0},"y":{"datum":5.1,"axis":null},"y2":{"datum":14}}},
{"data":{"name":"x1h"},"mark":{"type":"rule","stroke":"#111"},"encoding":{"x":{"field":"g","type":"quantitative","axis":null},"y":{"datum":5.1,"axis":null},"y2":{"datum":5.3252}}},
{"data":{"name":"xm02"},"mark":{"type":"rule","stroke":"#111"},"encoding":{"x":{"field":"g","type":"quantitative","axis":null},"y":{"datum":5.1,"axis":null},"y2":{"datum":5.2114}}},
{"data":{"name":"bg"},"mark":{"type":"rule","stroke":"#111"},"encoding":{"y":{"field":"g","type":"quantitative","axis":null},"x":{"datum":-12,"axis":null},"x2":{"datum":-11.744}}},
{"data":{"name":"bg"},"mark":{"type":"rule","stroke":"#111"},"encoding":{"y":{"field":"g","type":"quantitative","axis":null},"x":{"datum":0,"axis":null},"x2":{"datum":-0.256}}},
{"data":{"name":"x1h"},"mark":{"type":"text","align":"center","baseline":"middle","fontSize":9.5,"fontWeight":"bold","color":"#111"},"encoding":{"x":{"field":"g","type":"quantitative","axis":null},"y":{"datum":4.8244,"axis":null},"text":{"field":"l","type":"nominal"}}},
{"mark":{"type":"text","text":"Time (h)","align":"center","baseline":"middle","fontSize":11,"fontWeight":"bold","color":"#111"},"encoding":{"x":{"datum":-6,"axis":null},"y":{"datum":4.398,"axis":null}}}
]},
{"layer":[
{"data":{"name":"cg"},"mark":{"type":"rule","stroke":"#a0a0a0","strokeDash":[1,2],"strokeWidth":1},"encoding":{"y":{"field":"g","type":"quantitative","scale":{"type":"log","domain":[0.022,10.5],"range":[533,352],"nice":false,"zero":false},"axis":null},"x":{"datum":-12,"scale":{"domain":[-12,0],"range":[80,410],"nice":false,"zero":false},"axis":null},"x2":{"datum":0}}},
{"data":{"values":[{"g":-11},{"g":-10},{"g":-9},{"g":-8},{"g":-7},{"g":-6},{"g":-5},{"g":-4},{"g":-3},{"g":-2},{"g":-1}]},"mark":{"type":"rule","stroke":"#a0a0a0","strokeDash":[1,2],"strokeWidth":1},"encoding":{"x":{"field":"g","type":"quantitative","axis":null},"y":{"datum":0.022,"axis":null},"y2":{"datum":10.5}}},
{"data":{"values":[
{"t":-12,"r":0.142,"b":0.25,"o":0.6,"w":0.205,"c":0.044,"m":0.0235},
{"t":-11.7,"r":0.148,"b":0.258,"o":0.64,"w":0.215,"c":0.046,"m":0.024},
{"t":-11.4,"r":0.139,"b":0.246,"o":0.58,"w":0.2,"c":0.043,"m":0.0232},
{"t":-11.1,"r":0.146,"b":0.262,"o":0.63,"w":0.212,"c":0.045,"m":0.0238},
{"t":-10.8,"r":0.151,"b":0.249,"o":0.66,"w":0.22,"c":0.047,"m":0.0236},
{"t":-10.5,"r":0.141,"b":0.255,"o":0.59,"w":0.203,"c":0.044,"m":0.0233},
{"t":-10.2,"r":0.145,"b":0.244,"o":0.62,"w":0.21,"c":0.045,"m":0.0239},
{"t":-9.9,"r":0.138,"b":0.26,"o":0.57,"w":0.198,"c":0.043,"m":0.0234},
{"t":-9.6,"r":0.149,"b":0.251,"o":0.65,"w":0.218,"c":0.046,"m":0.0237},
{"t":-9.3,"r":0.143,"b":0.247,"o":0.61,"w":0.207,"c":0.044,"m":0.0235},
{"t":-9,"r":0.147,"b":0.263,"o":0.6,"w":0.213,"c":0.045,"m":0.0232},
{"t":-8.7,"r":0.14,"b":0.25,"o":0.64,"w":0.2,"c":0.047,"m":0.0238},
{"t":-8.4,"r":0.152,"b":0.256,"o":0.58,"w":0.216,"c":0.043,"m":0.0236},
{"t":-8.1,"r":0.144,"b":0.243,"o":0.62,"w":0.209,"c":0.045,"m":0.0234},
{"t":-7.8,"r":0.139,"b":0.258,"o":0.67,"w":0.202,"c":0.044,"m":0.0239},
{"t":-7.5,"r":0.146,"b":0.252,"o":0.6,"w":0.219,"c":0.046,"m":0.0233},
{"t":-7.2,"r":0.15,"b":0.248,"o":0.59,"w":0.206,"c":0.045,"m":0.0236},
{"t":-6.9,"r":0.141,"b":0.261,"o":0.63,"w":0.211,"c":0.043,"m":0.0235},
{"t":-6.6,"r":0.145,"b":0.245,"o":0.61,"w":0.199,"c":0.046,"m":0.0238},
{"t":-6.3,"r":0.148,"b":0.254,"o":0.58,"w":0.214,"c":0.044,"m":0.0232},
{"t":-6,"r":0.137,"b":0.259,"o":0.65,"w":0.208,"c":0.045,"m":0.0237},
{"t":-5.7,"r":0.144,"b":0.247,"o":0.62,"w":0.203,"c":0.047,"m":0.0234},
{"t":-5.4,"r":0.151,"b":0.253,"o":0.6,"w":0.217,"c":0.044,"m":0.0236},
{"t":-5.1,"r":0.142,"b":0.25,"o":0.57,"w":0.21,"c":0.045,"m":0.0239},
{"t":-4.8,"r":0.146,"b":0.262,"o":0.63,"w":0.2,"c":0.043,"m":0.0233},
{"t":-4.5,"r":0.14,"b":0.246,"o":0.66,"w":0.212,"c":0.046,"m":0.0235},
{"t":-4.2,"r":0.149,"b":0.257,"o":0.6,"w":0.205,"c":0.044,"m":0.0237},
{"t":-3.9,"r":0.143,"b":0.249,"o":0.62,"w":0.22,"c":0.045,"m":0.0234},
{"t":-3.6,"r":0.138,"b":0.255,"o":0.58,"w":0.207,"c":0.046,"m":0.0238},
{"t":-3.3,"r":0.147,"b":0.244,"o":0.64,"w":0.201,"c":0.043,"m":0.0232},
{"t":-3,"r":0.145,"b":0.26,"o":0.61,"w":0.214,"c":0.045,"m":0.0236},
{"t":-2.7,"r":0.141,"b":0.251,"o":0.6,"w":0.209,"c":0.044,"m":0.0235},
{"t":-2.4,"r":0.15,"b":0.256,"o":0.63,"w":0.203,"c":0.046,"m":0.0237},
{"t":-2.1,"r":0.144,"b":0.248,"o":0.59,"w":0.216,"c":0.045,"m":0.0233},
{"t":-1.8,"r":0.139,"b":0.263,"o":0.62,"w":0.21,"c":0.043,"m":0.0238},
{"t":-1.5,"r":0.146,"b":0.25,"o":0.65,"w":0.204,"c":0.044,"m":0.0234},
{"t":-1.2,"r":0.148,"b":0.254,"o":0.6,"w":0.212,"c":0.046,"m":0.0236},
{"t":-0.9,"r":0.142,"b":0.246,"o":0.58,"w":0.207,"c":0.045,"m":0.0235},
{"t":-0.6,"r":0.145,"b":0.259,"o":0.63,"w":0.215,"c":0.044,"m":0.0239},
{"t":-0.3,"r":0.14,"b":0.252,"o":0.61,"w":0.201,"c":0.046,"m":0.0233},
{"t":0,"r":0.147,"b":0.257,"o":0.6,"w":0.21,"c":0.045,"m":0.0236},
{"t":-2.5,"r":0.145,"o":0.61},{"t":-2.48,"r":1,"o":0.98},{"t":-2.46,"r":0.022,"o":0.16},{"t":-2.44,"r":0.146,"o":0.62},
{"t":-0.57,"r":0.145},{"t":-0.55,"r":1},{"t":-0.53,"r":0.022},{"t":-0.51,"r":0.146}]},
"transform":[{"fold":["r","b","m","c","o","w"],"as":["s","v"]},{"filter":"isValid(datum.v)"}],
"mark":{"type":"line","strokeWidth":1.2},
"encoding":{
"x":{"field":"t","type":"quantitative","axis":null},
"y":{"field":"v","type":"quantitative","axis":null},
"color":{"field":"s","type":"nominal","scale":{"domain":["r","b","m","c","o","w"],"range":["#e31e24","#2a2ad0","#e0399a","#3cc8d8","#d98a1e","#f2b51c"]},"legend":{"orient":"none","legendX":83,"legendY":329,"title":null,"direction":"vertical","symbolType":"stroke","symbolSize":64,"symbolStrokeWidth":1.5,"labelFontSize":5.5,"labelColor":"#444","labelFontWeight":"normal","labelOffset":4,"padding":3,"rowPadding":0,"values":["r","b","m","c"],"labelExpr":"datum.label == 'r' ? 'H1 sg235q9' : datum.label == 'b' ? 'H2 sg235q9' : datum.label == 'm' ? 'H1 noise sg235q9' : 'H2 noise sg235q9'"}}}},
{"mark":{"type":"rect","filled":false,"stroke":"#111111","strokeWidth":1},"encoding":{"x":{"datum":-12,"axis":null},"x2":{"datum":0},"y":{"datum":0.022,"axis":null},"y2":{"datum":10.5}}},
{"data":{"name":"x2h"},"mark":{"type":"rule","stroke":"#111"},"encoding":{"x":{"field":"g","type":"quantitative","axis":null},"y":{"datum":0.022,"axis":null},"y2":{"datum":0.02793}}},
{"data":{"name":"xm04"},"mark":{"type":"rule","stroke":"#111"},"encoding":{"x":{"field":"g","type":"quantitative","axis":null},"y":{"datum":0.022,"axis":null},"y2":{"datum":0.02521}}},
{"data":{"name":"x2h"},"mark":{"type":"rule","stroke":"#111"},"encoding":{"x":{"field":"g","type":"quantitative","axis":null},"y":{"datum":10.5,"axis":null},"y2":{"datum":8.27}}},
{"data":{"name":"xm04"},"mark":{"type":"rule","stroke":"#111"},"encoding":{"x":{"field":"g","type":"quantitative","axis":null},"y":{"datum":10.5,"axis":null},"y2":{"datum":9.16}}},
{"data":{"name":"cy"},"mark":{"type":"rule","stroke":"#111"},"encoding":{"y":{"field":"g","type":"quantitative","axis":null},"x":{"datum":-12,"axis":null},"x2":{"datum":-11.745}}},
{"data":{"name":"cg"},"mark":{"type":"rule","stroke":"#111"},"encoding":{"y":{"field":"g","type":"quantitative","axis":null},"x":{"datum":-12,"axis":null},"x2":{"datum":-11.855}}},
{"data":{"name":"cy"},"mark":{"type":"rule","stroke":"#111"},"encoding":{"y":{"field":"g","type":"quantitative","axis":null},"x":{"datum":0,"axis":null},"x2":{"datum":-0.2545}}},
{"data":{"name":"cg"},"mark":{"type":"rule","stroke":"#111"},"encoding":{"y":{"field":"g","type":"quantitative","axis":null},"x":{"datum":0,"axis":null},"x2":{"datum":-0.145}}},
{"data":{"name":"cx"},"mark":{"type":"text","align":"center","baseline":"middle","fontSize":10,"fontWeight":"bold","color":"#111"},"encoding":{"x":{"field":"g","type":"quantitative","axis":null},"y":{"datum":0.015646,"axis":null},"text":{"field":"l","type":"nominal"}}},
{"data":{"name":"cy"},"mark":{"type":"text","align":"right","baseline":"middle","fontSize":10,"fontWeight":"bold","color":"#111"},"encoding":{"y":{"field":"g","type":"quantitative","axis":null},"x":{"datum":-12.109,"axis":null},"text":{"field":"l","type":"nominal"}}},
{"mark":{"type":"text","text":"hᵣₛₛ (10⁻²¹/√Hz)","align":"center","baseline":"middle","angle":270,"fontSize":11,"fontWeight":"bold","color":"#111"},"encoding":{"x":{"datum":-12.909,"axis":null},"y":{"datum":0.4123,"axis":null}}}
]},
{"layer":[
{"data":{"name":"dg"},"mark":{"type":"rule","stroke":"#a0a0a0","strokeDash":[1,2],"strokeWidth":1},"encoding":{"y":{"field":"g","type":"quantitative","scale":{"type":"log","domain":[0.0001,0.01],"range":[582,362],"nice":false,"zero":false},"axis":null},"x":{"datum":-12,"scale":{"domain":[-12,0],"range":[488,817],"nice":false,"zero":false},"axis":null},"x2":{"datum":0}}},
{"data":{"values":[{"g":-10},{"g":-8},{"g":-6},{"g":-4},{"g":-2}]},"mark":{"type":"rule","stroke":"#a0a0a0","strokeDash":[1,2],"strokeWidth":1},"encoding":{"x":{"field":"g","type":"quantitative","axis":null},"y":{"datum":0.0001,"axis":null},"y2":{"datum":0.01}}},
{"data":{"values":[
{"t":-1.56,"v":0.001078,"s":"o"},{"t":-1.53,"v":0.00136,"s":"o"},{"t":-1.5,"v":0.00101,"s":"o"},{"t":-1.46,"v":0.000916,"s":"o"},{"t":-1.43,"v":0.001146,"s":"o"},{"t":-1.39,"v":0.000947,"s":"o"},{"t":-1.36,"v":0.001078,"s":"o"},{"t":-1.32,"v":0.000897,"s":"o"},{"t":-1.29,"v":0.00101,"s":"o"},{"t":-1.25,"v":0.001146,"s":"o"},
{"t":-1.22,"v":0.000935,"s":"o"},{"t":-1.18,"v":0.001078,"s":"o"},{"t":-1.15,"v":0.000947,"s":"o"},{"t":-1.11,"v":0.00111,"s":"o"},{"t":-1.08,"v":0.0009,"s":"o"},{"t":-1.04,"v":0.00101,"s":"o"},{"t":-1.01,"v":0.001146,"s":"o"},{"t":-0.97,"v":0.000947,"s":"o"},{"t":-0.94,"v":0.001078,"s":"o"},{"t":-0.9,"v":0.000916,"s":"o"},
{"t":-0.87,"v":0.001043,"s":"o"},{"t":-0.83,"v":0.001146,"s":"o"},{"t":-0.8,"v":0.000947,"s":"o"},{"t":-0.76,"v":0.00101,"s":"o"},{"t":-0.73,"v":0.000897,"s":"o"},{"t":-0.69,"v":0.001078,"s":"o"},{"t":-0.66,"v":0.001215,"s":"o"},{"t":-0.62,"v":0.000947,"s":"o"},{"t":-0.59,"v":0.00101,"s":"o"},{"t":-0.55,"v":0.000916,"s":"o"},
{"t":-0.52,"v":0.001146,"s":"o"},{"t":-0.48,"v":0.00101,"s":"o"},{"t":-0.45,"v":0.000947,"s":"o"},{"t":-0.41,"v":0.001078,"s":"o"},{"t":-0.38,"v":0.001433,"s":"o"},{"t":-0.34,"v":0.000935,"s":"o"},{"t":-0.31,"v":0.00101,"s":"o"},{"t":-0.27,"v":0.001146,"s":"o"},{"t":-0.24,"v":0.000947,"s":"o"},{"t":-0.2,"v":0.001043,"s":"o"},
{"t":-0.17,"v":0.000916,"s":"o"},{"t":-0.13,"v":0.001078,"s":"o"},{"t":-0.1,"v":0.00101,"s":"o"},{"t":-0.06,"v":0.000947,"s":"o"},{"t":-0.03,"v":0.001146,"s":"o"},
{"t":-1.59,"v":0.00241,"s":"p"},{"t":-7.37,"v":0.000434,"s":"p"},{"t":-3.61,"v":0.000434,"s":"p"},{"t":-1.06,"v":0.000434,"s":"p"},{"t":-0.51,"v":0.000434,"s":"bl"}]},
"mark":{"type":"point","filled":true,"size":12,"opacity":1},
"encoding":{
"x":{"field":"t","type":"quantitative","axis":null},
"y":{"field":"v","type":"quantitative","axis":null},
"color":{"field":"s","type":"nominal","scale":{"domain":["p","bl","o"],"range":["#e0207a","#2233cc","#f5a511"]},"legend":{"orient":"none","legendX":485,"legendY":343,"title":null,"direction":"vertical","symbolType":"circle","symbolSize":14,"labelFontSize":8.5,"labelColor":"#222","labelFontWeight":"normal","symbolOffset":24,"labelOffset":24,"padding":3,"rowPadding":5,"values":["p","bl"],"labelExpr":"datum.label == 'p' ? 'Ω sens: live H1 w/ref H2' : 'Ω sens: live H2 w/ref H1'"}}}},
{"mark":{"type":"rect","filled":false,"stroke":"#111111","strokeWidth":1},"encoding":{"x":{"datum":-12,"axis":null},"x2":{"datum":0},"y":{"datum":0.0001,"axis":null},"y2":{"datum":0.01}}},
{"data":{"name":"dmaj"},"mark":{"type":"rule","stroke":"#111"},"encoding":{"y":{"field":"g","type":"quantitative","axis":null},"x":{"datum":-12,"axis":null},"x2":{"datum":-11.745}}},
{"data":{"name":"dg"},"mark":{"type":"rule","stroke":"#111"},"encoding":{"y":{"field":"g","type":"quantitative","axis":null},"x":{"datum":-12,"axis":null},"x2":{"datum":-11.854}}},
{"data":{"name":"dmaj"},"mark":{"type":"rule","stroke":"#111"},"encoding":{"y":{"field":"g","type":"quantitative","axis":null},"x":{"datum":0,"axis":null},"x2":{"datum":-0.255}}},
{"data":{"name":"dg"},"mark":{"type":"rule","stroke":"#111"},"encoding":{"y":{"field":"g","type":"quantitative","axis":null},"x":{"datum":0,"axis":null},"x2":{"datum":-0.146}}},
{"data":{"name":"x2h"},"mark":{"type":"rule","stroke":"#111"},"encoding":{"x":{"field":"g","type":"quantitative","axis":null},"y":{"datum":0.01,"axis":null},"y2":{"datum":0.00864}}},
{"data":{"name":"xm04"},"mark":{"type":"rule","stroke":"#111"},"encoding":{"x":{"field":"g","type":"quantitative","axis":null},"y":{"datum":0.01,"axis":null},"y2":{"datum":0.0092}}},
{"data":{"name":"dy"},"mark":{"type":"text","align":"right","baseline":"middle","fontSize":10,"fontWeight":"bold","color":"#111"},"encoding":{"y":{"field":"g","type":"quantitative","axis":null},"x":{"datum":-12.109,"axis":null},"text":{"field":"l","type":"nominal"}}},
{"mark":{"type":"text","text":"Ω","align":"center","baseline":"middle","angle":270,"fontSize":11,"fontWeight":"bold","color":"#111"},"encoding":{"x":{"datum":-12.948,"axis":null},"y":{"datum":0.001585,"axis":null}}}
]},
{"layer":[
{"mark":{"type":"rect","fill":"#f4f4f4","stroke":"#333333","strokeWidth":1.2},"encoding":{"x":{"datum":-11.706,"scale":{"domain":[-12,0],"range":[80,407],"nice":false,"zero":false},"axis":null},"x2":{"datum":-3.67},"y":{"datum":0.4953,"scale":{"domain":[0,0.49],"range":[273,88],"nice":false,"zero":false},"axis":null},"y2":{"datum":0.4317}}},
{"mark":{"type":"rect","fill":"#f4f4f4","stroke":"#333333","strokeWidth":1.2},"encoding":{"x":{"datum":-11.89,"axis":null},"x2":{"datum":-9.431},"y":{"datum":-0.1483,"axis":null},"y2":{"datum":-0.2516}}},
{"mark":{"type":"rect","fill":"#f0f0f0","stroke":"#222222","strokeWidth":1.5},"encoding":{"x":{"datum":2.862,"axis":null},"x2":{"datum":11.45},"y":{"datum":-0.1854,"axis":null},"y2":{"datum":-0.2516}}},
{"mark":{"type":"rect","fill":"#f2f2f2","stroke":"#222222","strokeWidth":1.2},"encoding":{"x":{"datum":-9.872,"axis":null},"x2":{"datum":-2.092},"y":{"datum":0.543,"axis":null},"y2":{"datum":0.5006}}},
{"mark":{"type":"text","text":"BurstMon pixel fractions (N>2)","align":"left","baseline":"alphabetic","fontSize":14,"fontWeight":"bold","color":"#111"},"encoding":{"x":{"datum":-9.541,"axis":null},"y":{"datum":0.5085,"axis":null}}},
{"mark":{"type":"rect","fill":"#f2f2f2","stroke":"#222222","strokeWidth":1.2},"encoding":{"x":{"datum":-8.991,"axis":null},"x2":{"datum":-3.266},"y":{"datum":-0.1563,"axis":null},"y2":{"datum":-0.2039}}},
{"mark":{"type":"text","text":"BurstMon h","align":"left","baseline":"alphabetic","fontSize":13.5,"fontWeight":"bold","color":"#111"},"encoding":{"x":{"datum":-8.881,"axis":null},"y":{"datum":-0.196,"axis":null}}},
{"mark":{"type":"text","text":"rss","align":"left","baseline":"alphabetic","fontSize":8.5,"fontWeight":"bold","color":"#111"},"encoding":{"x":{"datum":-6.147,"axis":null},"y":{"datum":-0.2066,"axis":null}}},
{"mark":{"type":"text","text":"@","align":"left","baseline":"alphabetic","fontSize":13.5,"fontWeight":"bold","color":"#111"},"encoding":{"x":{"datum":-5.468,"axis":null},"y":{"datum":-0.196,"axis":null}}},
{"mark":{"type":"text","text":"50%","align":"left","baseline":"alphabetic","fontSize":13.5,"fontWeight":"bold","color":"#111"},"encoding":{"x":{"datum":-4.697,"axis":null},"y":{"datum":-0.196,"axis":null}}},
{"mark":{"type":"rect","fill":"#f2f2f2","stroke":"#222222","strokeWidth":1.2},"encoding":{"x":{"datum":5.358,"axis":null},"x2":{"datum":13.174},"y":{"datum":-0.151,"axis":null},"y2":{"datum":-0.196}}},
{"mark":{"type":"text","text":"StochMon Sensitivity (1 min)","align":"left","baseline":"alphabetic","fontSize":14,"fontWeight":"bold","color":"#111"},"encoding":{"x":{"datum":5.688,"axis":null},"y":{"datum":-0.1881,"axis":null}}},
{"mark":{"type":"text","text":"T0=07/08/2006 05:10:48","align":"left","baseline":"alphabetic","fontSize":10.5,"fontWeight":"bold","color":"#111"},"encoding":{"x":{"datum":-13.174,"axis":null},"y":{"datum":-0.1165,"axis":null}}},
{"mark":{"type":"text","text":"T0=07/08/2006 05:07:13.90606","align":"left","baseline":"alphabetic","fontSize":10.5,"fontWeight":"bold","color":"#111"},"encoding":{"x":{"datum":1.908,"axis":null},"y":{"datum":-0.1139,"axis":null}}},
{"mark":{"type":"text","text":"T0=07/08/2006 05:10:48","align":"left","baseline":"alphabetic","fontSize":10.5,"fontWeight":"bold","color":"#111"},"encoding":{"x":{"datum":-13.138,"axis":null},"y":{"datum":-0.8105,"axis":null}}},
{"mark":{"type":"text","text":"Signal to Noise Ratio","align":"left","baseline":"middle","angle":270,"fontSize":11,"fontWeight":"bold","color":"#111"},"encoding":{"x":{"datum":2.055,"axis":null},"y":{"datum":0.098,"axis":null}}},
{"mark":{"type":"rect","fill":"#ffffff"},"encoding":{"x":{"datum":-11.89,"axis":null},"x2":{"datum":-0.55},"y":{"datum":0.4291,"axis":null},"y2":{"datum":0.2728}}},
{"mark":{"type":"rect","fill":"#ffffff"},"encoding":{"x":{"datum":-11.89,"axis":null},"x2":{"datum":-0.624},"y":{"datum":-0.249,"axis":null},"y2":{"datum":-0.4052}}},
{"mark":{"type":"rect","fill":"#ffffff"},"encoding":{"x":{"datum":2.312,"axis":null},"x2":{"datum":13.358},"y":{"datum":-0.2516,"axis":null},"y2":{"datum":-0.5562}}},
{"mark":{"type":"rect","fill":"#ffffff"},"encoding":{"x":{"datum":2.312,"axis":null},"x2":{"datum":13.358},"y":{"datum":0.4052,"axis":null},"y2":{"datum":0.2834}}},
{"mark":{"type":"text","text":"Sergey Klimenko","align":"left","baseline":"alphabetic","fontSize":32,"fontWeight":"bold","color":"#cc0000"},"encoding":{"x":{"datum":-11.083,"axis":null},"y":{"datum":0.3152,"axis":null}}},
{"mark":{"type":"text","text":"Sergey Klimenko","align":"left","baseline":"alphabetic","fontSize":32,"fontWeight":"bold","color":"#cc0000"},"encoding":{"x":{"datum":-11.083,"axis":null},"y":{"datum":-0.3602,"axis":null}}},
{"mark":{"type":"text","text":"Marc Cenac","align":"left","baseline":"alphabetic","fontSize":32,"fontWeight":"bold","color":"#cc0000"},"encoding":{"x":{"datum":2.972,"axis":null},"y":{"datum":-0.3602,"axis":null}}},
{"mark":{"type":"text","text":"John Whelan","align":"left","baseline":"alphabetic","fontSize":32,"fontWeight":"bold","color":"#cc0000"},"encoding":{"x":{"datum":2.972,"axis":null},"y":{"datum":-0.5138,"axis":null}}},
{"mark":{"type":"text","text":"Duncan Brown","align":"left","baseline":"alphabetic","fontSize":32,"fontWeight":"bold","color":"#cc0000"},"encoding":{"x":{"datum":2.936,"axis":null},"y":{"datum":0.3178,"axis":null}}},
{"mark":{"type":"rect","fill":"#6391fb"},"encoding":{"x":{"datum":-2.459,"axis":null},"x2":{"datum":16.587},"y":{"datum":0.7231,"axis":null},"y2":{"datum":0.3311}}},
{"mark":{"type":"text","text":"But especially…","align":"left","baseline":"alphabetic","fontSize":62,"fontWeight":"bold","color":"#cc0000"},"encoding":{"x":{"datum":-1.615,"axis":null},"y":{"datum":0.6992,"axis":null}}},
{"mark":{"type":"text","text":"John Zweizig","align":"left","baseline":"alphabetic","fontSize":62,"fontWeight":"bold","color":"#cc0000"},"encoding":{"x":{"datum":5.321,"axis":null},"y":{"datum":0.3947,"axis":null}}},
{"mark":{"type":"rect","fill":"#ffffff"},"encoding":{"x":{"datum":-8.954,"axis":null},"x2":{"datum":16.587},"y":{"datum":-0.633,"axis":null},"y2":{"datum":-0.8767}}},
{"mark":{"type":"text","text":"And many others…","align":"left","baseline":"alphabetic","fontSize":32,"fontWeight":"bold","color":"#cc0000"},"encoding":{"x":{"datum":-8.11,"axis":null},"y":{"datum":-0.7469,"axis":null}}},
{"mark":{"type":"text","text":"Junwei Cao","align":"left","baseline":"alphabetic","fontSize":32,"fontWeight":"bold","color":"#000000"},"encoding":{"x":{"datum":2.983,"axis":null},"y":{"datum":-0.7469,"axis":null}}},
{"mark":{"type":"text","text":", Vladimir Dergachev,","align":"left","baseline":"alphabetic","fontSize":32,"fontWeight":"bold","color":"#cc0000"},"encoding":{"x":{"datum":9.508,"axis":null},"y":{"datum":-0.7469,"axis":null}}},
{"mark":{"type":"text","text":"Harstad,","align":"left","baseline":"alphabetic","fontSize":32,"fontWeight":"bold","color":"#cc0000"},"encoding":{"x":{"datum":-8.11,"axis":null},"y":{"datum":-0.8396,"axis":null}}},
{"mark":{"type":"text","text":"Masahiro Ito","align":"left","baseline":"alphabetic","fontSize":32,"fontWeight":"bold","color":"#000000"},"encoding":{"x":{"datum":-3.086,"axis":null},"y":{"datum":-0.8396,"axis":null}}},
{"mark":{"type":"text","text":", Peter Kalmus,","align":"left","baseline":"alphabetic","fontSize":32,"fontWeight":"bold","color":"#cc0000"},"encoding":{"x":{"datum":3.835,"axis":null},"y":{"datum":-0.8396,"axis":null}}},
{"mark":{"type":"text","text":"Szabi Marka","align":"left","baseline":"alphabetic","fontSize":32,"fontWeight":"bold","color":"#000000"},"encoding":{"x":{"datum":12.646,"axis":null},"y":{"datum":-0.8396,"axis":null}}}
]}
]
}
